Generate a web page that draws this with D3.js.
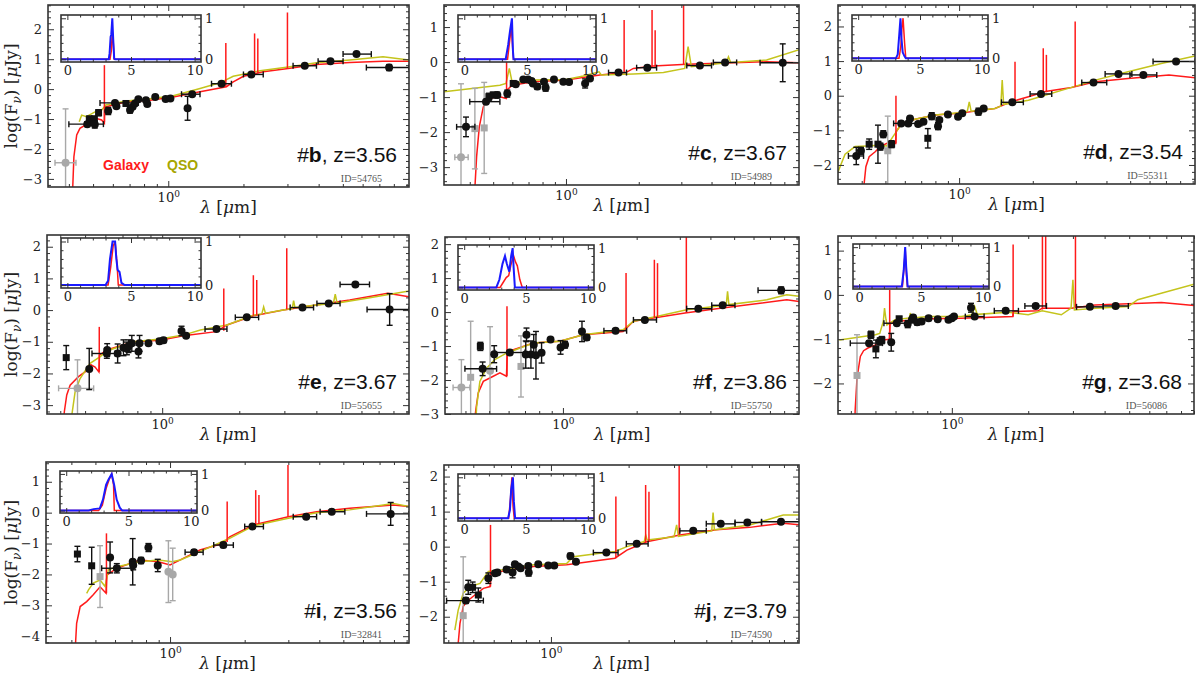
<!DOCTYPE html>
<html><head><meta charset="utf-8">
<script src="https://cdn.jsdelivr.net/npm/d3@7"></script>
<style>body{margin:0;background:#fff}svg{display:block}</style>
</head><body>
<svg id="c" width="1200" height="680"></svg>
<script>
// ---------------- DATA ----------------
const panelKeys = ['b','c','d','e','f','g','i','j'];
const redshifts = ['3.56','3.67','3.54','3.67','3.86','3.68','3.56','3.79'];
const objIds = ['54765','54989','55311','55655','55750','56086','32841','74590'];
const xRanges = [[0.33,9.2],[0.313,9.2],[0.32,9.2],[0.355,9.2],[0.33,9.2],[0.356,9.0],[0.316,9.2],[0.385,9.15]];
const yRanges = [[-3.27,2.81],[-3.51,1.63],[-2.55,2.62],[-3.28,2.37],[-3.0,2.21],[-2.69,1.33],[-4.22,1.64],[-2.75,2.33]];
const xMajorTicks = [1];
const xMinorTicks = [0.2,0.3,0.4,0.5,0.6,0.7,0.8,0.9,2,3,4,5,6,7,8,9];
const insetXTicks = [0,5,10];
const insetYTicks = [0,1];
const legendLabels = ['Galaxy','QSO'];

// photometry: [lambda, logF, yerr, xlo, xhi, kind]  kind: c circle, s square, gc/gs grey
const bPhot = [[0.388,-2.46,1.8,0.352,0.427,'gc'],[0.474,-1.17,0.08,0.40,0.55,'c'],[0.483,-1.0,0.1,null,null,'s'],[0.506,-1.0,0.1,null,null,'s'],[0.508,-1.18,0.12,null,null,'c'],[0.526,-0.79,0.1,null,null,'s'],[0.575,-0.73,0.12,null,null,'c'],[0.612,-0.46,0.05,0.533,0.759,'c'],[0.62,-0.57,0.06,null,null,'c'],[0.677,-0.48,0.05,null,null,'s'],[0.703,-0.7,0.1,null,null,'c'],[0.72,-0.59,0.06,null,null,'c'],[0.736,-0.48,0.05,null,null,'c'],[0.759,-0.34,0.05,null,null,'c'],[0.814,-0.37,0.05,null,null,'c'],[0.824,-0.5,0.06,null,null,'c'],[0.887,-0.26,0.04,null,null,'c'],[0.976,-0.33,0.04,null,null,'c'],[1.02,-0.31,0.04,null,null,'c'],[1.195,-0.64,0.4,null,null,'c'],[1.247,-0.17,0.04,1.13,1.34,'c'],[1.634,0.18,0.04,1.49,1.79,'c'],[2.15,0.49,0.04,2.0,2.4,'c'],[3.52,0.78,0.03,3.16,3.92,'c'],[4.46,0.93,0.03,3.98,5.01,'c'],[5.67,1.17,0.03,5.01,6.5,'c'],[7.66,0.72,0.1,6.21,9.2,'c']];
const cPhot = [[0.368,-2.72,2.1,0.347,0.394,'gc'],[0.386,-1.85,0.28,0.353,0.42,'c'],[0.42,-1.9,1.15,null,null,'gs'],[0.459,-1.88,1.3,null,null,'gs'],[0.467,-1.13,0.06,0.40,0.533,'c'],[0.48,-0.99,0.1,null,null,'s'],[0.5,-0.94,0.08,null,null,'s'],[0.52,-0.94,0.08,null,null,'c'],[0.572,-0.9,0.1,null,null,'c'],[0.605,-0.61,0.05,null,null,'s'],[0.62,-0.63,0.05,null,null,'c'],[0.666,-0.5,0.05,null,null,'c'],[0.697,-0.5,0.05,null,null,'c'],[0.72,-0.54,0.06,null,null,'c'],[0.73,-0.61,0.06,null,null,'c'],[0.761,-0.7,0.08,null,null,'c'],[0.811,-0.56,0.06,null,null,'c'],[0.824,-0.73,0.1,null,null,'c'],[0.892,-0.5,0.04,null,null,'c'],[0.975,-0.56,0.04,null,null,'c'],[1.03,-0.57,0.04,null,null,'c'],[1.2,-0.61,0.13,null,null,'c'],[1.257,-0.47,0.04,null,null,'c'],[1.65,-0.3,0.04,1.5,1.78,'c'],[2.17,-0.16,0.04,1.96,2.37,'c'],[3.58,-0.1,0.03,3.16,4.0,'c'],[4.55,-0.01,0.03,4.07,5.08,'c'],[7.88,-0.02,0.54,6.35,9.3,'c']];
const dPhot = [[0.38,-1.74,0.25,0.353,0.407,'c'],[0.397,-1.59,0.1,null,null,'c'],[0.429,-1.4,0.15,null,null,'s'],[0.466,-1.4,0.55,null,null,'s'],[0.477,-1.47,0.1,null,null,'c'],[0.49,-1.11,0.1,null,null,'c'],[0.511,-1.59,1.0,null,null,'gs'],[0.53,-1.4,0.1,null,null,'s'],[0.58,-0.8,0.06,0.54,0.705,'c'],[0.62,-0.8,0.06,null,null,'c'],[0.63,-0.66,0.06,null,null,'c'],[0.68,-0.82,0.06,null,null,'c'],[0.715,-0.75,0.06,null,null,'c'],[0.745,-1.23,0.28,null,null,'s'],[0.773,-0.59,0.1,null,null,'c'],[0.82,-0.88,0.1,null,null,'c'],[0.83,-0.7,0.06,null,null,'c'],[0.9,-0.54,0.04,null,null,'c'],[0.99,-0.61,0.05,null,null,'c'],[1.03,-0.51,0.04,null,null,'c'],[1.2,-0.46,0.1,null,null,'c'],[1.26,-0.37,0.04,null,null,'c'],[1.65,-0.19,0.04,1.49,1.83,'c'],[2.16,0.05,0.04,1.95,2.39,'c'],[3.54,0.38,0.03,3.17,4.01,'c'],[4.48,0.63,0.03,3.95,5.08,'c'],[5.66,0.6,0.04,4.99,6.42,'c'],[7.7,0.99,0.03,6.2,9.2,'c']];
const ePhot = [[0.422,-1.5,0.38,null,null,'s'],[0.467,-2.47,0.9,0.394,0.54,'gc'],[0.519,-1.86,0.65,null,null,'c'],[0.608,-1.37,0.15,0.532,0.655,'c'],[0.61,-1.26,0.2,null,null,'c'],[0.67,-1.37,0.3,null,null,'c'],[0.706,-1.19,0.25,null,null,'c'],[0.728,-1.21,0.2,null,null,'c'],[0.739,-1.14,0.2,null,null,'c'],[0.761,-1.05,0.25,null,null,'c'],[0.808,-1.31,0.2,null,null,'c'],[0.816,-1.05,0.25,null,null,'c'],[0.884,-1.05,0.05,null,null,'c'],[0.976,-0.98,0.08,null,null,'c'],[1.012,-0.95,0.08,null,null,'c'],[1.19,-0.66,0.15,null,null,'c'],[1.24,-0.81,0.05,null,null,'c'],[1.63,-0.6,0.05,1.47,1.79,'c'],[2.14,-0.23,0.04,1.93,2.38,'c'],[3.53,0.08,0.04,3.16,3.9,'c'],[4.47,0.21,0.04,4.02,4.95,'c'],[5.68,0.81,0.04,4.95,6.45,'c'],[7.73,0.02,0.5,6.31,9.2,'c']];
const fPhot = [[0.385,-2.22,0.82,0.356,0.417,'gc'],[0.42,-1.92,1.65,null,null,'gs'],[0.46,-1.01,0.12,null,null,'s'],[0.47,-1.67,0.2,0.398,0.536,'c'],[0.504,-1.73,1.3,null,null,'gc'],[0.524,-1.24,0.25,null,null,'c'],[0.607,-1.19,0.06,0.527,0.7,'c'],[0.674,-1.6,0.9,null,null,'gs'],[0.71,-0.67,0.2,null,null,'c'],[0.705,-1.25,0.4,null,null,'c'],[0.74,-1.25,0.4,null,null,'c'],[0.776,-1.27,0.7,null,null,'c'],[0.76,-0.96,0.3,null,null,'c'],[0.818,-1.2,0.3,null,null,'c'],[0.89,-0.81,0.05,null,null,'c'],[0.978,-1.04,0.2,null,null,'c'],[1.02,-0.96,0.1,null,null,'c'],[1.196,-0.57,0.3,null,null,'c'],[1.25,-0.75,0.08,null,null,'c'],[1.64,-0.55,0.05,1.47,1.82,'c'],[2.16,-0.23,0.04,1.94,2.41,'c'],[3.57,0.1,0.04,3.2,4.05,'c'],[4.49,0.2,0.04,4.05,5.04,'c'],[7.78,0.64,0.1,6.26,9.3,'c']];
const gPhot = [[0.423,-1.82,0.92,null,null,'gs'],[0.472,-1.09,0.05,0.398,0.533,'c'],[0.48,-0.9,0.08,null,null,'s'],[0.502,-1.22,0.2,null,null,'s'],[0.52,-1.05,0.08,null,null,'c'],[0.53,-1.02,0.08,null,null,'s'],[0.577,-1.07,0.2,null,null,'c'],[0.607,-0.64,0.05,0.54,0.686,'c'],[0.62,-0.54,0.05,null,null,'s'],[0.67,-0.66,0.08,null,null,'c'],[0.696,-0.56,0.05,null,null,'c'],[0.704,-0.51,0.05,null,null,'c'],[0.73,-0.62,0.06,null,null,'c'],[0.76,-0.6,0.05,null,null,'c'],[0.81,-0.53,0.05,null,null,'c'],[0.88,-0.55,0.04,null,null,'c'],[0.97,-0.56,0.04,null,null,'c'],[1.0,-0.53,0.04,null,null,'c'],[1.02,-0.49,0.04,null,null,'c'],[1.19,-0.29,0.1,null,null,'c'],[1.23,-0.49,0.04,1.13,1.34,'c'],[1.63,-0.36,0.04,1.47,1.83,'c'],[2.14,-0.25,0.04,1.94,2.36,'c'],[3.5,-0.27,0.03,3.1,3.95,'c'],[4.42,-0.25,0.03,3.95,4.96,'c']];
const iPhot = [[0.423,-1.34,0.25,null,null,'s'],[0.483,-1.72,0.6,null,null,'s'],[0.522,-2.07,1.0,null,null,'gs'],[0.573,-1.45,0.5,null,null,'c'],[0.61,-1.8,0.15,0.53,0.7,'c'],[0.707,-1.59,0.75,null,null,'c'],[0.71,-1.7,0.15,null,null,'c'],[0.764,-1.55,0.1,null,null,'c'],[0.818,-1.13,0.13,null,null,'c'],[0.892,-1.71,0.2,null,null,'c'],[0.985,-1.91,1.0,null,null,'gc'],[1.025,-2.0,0.85,null,null,'gc'],[1.25,-1.28,0.08,1.15,1.36,'c'],[1.64,-1.05,0.08,1.5,1.8,'c'],[2.15,-0.45,0.05,2.0,2.38,'c'],[3.54,-0.13,0.04,3.14,3.9,'c'],[4.49,0.03,0.04,4.03,5.07,'c'],[7.76,-0.04,0.37,6.2,9.2,'c']];
const jPhot = [[0.457,-1.97,1.68,null,null,'gs'],[0.468,-1.54,0.08,0.394,0.547,'c'],[0.478,-1.16,0.2,null,null,'c'],[0.497,-1.16,0.15,null,null,'s'],[0.523,-1.38,0.2,null,null,'s'],[0.572,-0.9,0.15,null,null,'c'],[0.607,-0.76,0.05,null,null,'c'],[0.62,-0.74,0.05,null,null,'c'],[0.673,-0.65,0.06,null,null,'c'],[0.71,-0.74,0.15,null,null,'c'],[0.725,-0.5,0.05,null,null,'c'],[0.747,-0.57,0.05,null,null,'c'],[0.763,-0.62,0.06,null,null,'c'],[0.817,-0.55,0.05,null,null,'c'],[0.82,-0.74,0.1,null,null,'c'],[0.893,-0.5,0.04,null,null,'c'],[0.976,-0.54,0.04,null,null,'c'],[1.03,-0.54,0.04,null,null,'c'],[1.19,-0.27,0.08,null,null,'c'],[1.25,-0.43,0.04,null,null,'c'],[1.64,-0.17,0.04,1.46,1.82,'c'],[2.15,0.08,0.04,1.96,2.38,'c'],[3.56,0.45,0.03,3.16,4.0,'c'],[4.55,0.65,0.03,4.0,5.17,'c'],[5.77,0.69,0.04,5.17,6.55,'c'],[7.79,0.71,0.04,6.55,9.2,'c']];

// galaxy model continuum [lambda, logF]
const bGal = [[0.414,-3.4],[0.419,-2.26],[0.43,-1.53],[0.443,-1.31],[0.472,-1.17],[0.517,-0.98],[0.541,-1.03],[0.555,-1.14],[0.5565,-0.6],[0.563,-0.59],[0.681,-0.42],[0.845,-0.37],[1.047,-0.26],[1.34,-0.09],[1.71,0.08],[1.82,0.24],[2.0,0.43],[2.4,0.58],[3.02,0.69],[3.92,0.82],[5.33,0.89],[7.24,0.93],[9.2,0.93]];
const cGal = [[0.42,-3.6],[0.427,-2.7],[0.438,-1.85],[0.455,-1.28],[0.473,-1.09],[0.5,-1.01],[0.533,-0.99],[0.566,-1.04],[0.569,-0.8],[0.6,-0.66],[0.73,-0.56],[1.0,-0.51],[1.38,-0.37],[1.77,-0.3],[1.9,-0.18],[2.3,-0.11],[3.16,-0.06],[4.92,-0.02],[6.76,0.01],[9.3,-0.02]];
const dGal = [[0.407,-2.7],[0.416,-2.05],[0.429,-1.76],[0.454,-1.62],[0.476,-1.47],[0.522,-1.33],[0.55,-1.38],[0.553,-1.04],[0.583,-0.8],[0.66,-0.68],[0.8,-0.56],[0.994,-0.51],[1.4,-0.37],[1.64,-0.17],[1.92,-0.03],[2.25,0.12],[2.88,0.24],[3.6,0.4],[4.9,0.5],[7.2,0.6],[9.2,0.52]];
const eGal = [[0.413,-3.4],[0.415,-3.2],[0.424,-2.68],[0.437,-2.37],[0.471,-2.1],[0.5,-1.95],[0.523,-1.71],[0.547,-1.8],[0.566,-1.95],[0.569,-1.42],[0.608,-1.26],[0.773,-1.0],[0.982,-0.95],[1.21,-0.81],[1.63,-0.68],[1.79,-0.47],[2.27,-0.18],[2.97,0.0],[4.0,0.16],[5.4,0.32],[7.6,0.53],[9.2,0.42]];
const fGal = [[0.436,-3.2],[0.441,-2.87],[0.451,-2.38],[0.473,-2.04],[0.503,-1.94],[0.553,-1.79],[0.588,-1.89],[0.593,-1.21],[0.607,-1.14],[0.757,-0.91],[0.972,-0.86],[1.21,-0.67],[1.76,-0.57],[1.94,-0.27],[2.41,-0.16],[3.15,-0.03],[4.24,0.1],[5.8,0.22],[8.2,0.36],[9.3,0.31]];
const gGal = [[0.414,-3.0],[0.416,-2.6],[0.423,-1.88],[0.436,-1.39],[0.449,-1.26],[0.467,-1.2],[0.5,-1.13],[0.538,-1.02],[0.567,-1.0],[0.571,-0.66],[0.598,-0.6],[0.81,-0.54],[1.09,-0.53],[1.74,-0.49],[1.745,-0.38],[2.19,-0.36],[2.27,-0.3],[2.96,-0.3],[3.67,-0.23],[4.96,-0.2],[6.7,-0.17],[9.0,-0.24]];
const iGal = [[0.414,-4.5],[0.42,-3.58],[0.434,-3.04],[0.461,-2.88],[0.49,-2.66],[0.522,-2.4],[0.552,-2.61],[0.556,-2.02],[0.61,-1.8],[0.757,-1.53],[0.897,-1.59],[1.0,-1.69],[1.1,-1.53],[1.32,-1.21],[1.64,-0.99],[1.74,-0.78],[2.17,-0.4],[3.0,-0.13],[3.9,0.03],[5.3,0.14],[7.95,0.25],[9.2,0.2]];
const jGal = [[0.435,-3.0],[0.437,-2.76],[0.444,-2.19],[0.457,-1.71],[0.471,-1.57],[0.507,-1.38],[0.547,-1.19],[0.581,-1.14],[0.585,-0.76],[0.634,-0.71],[0.854,-0.57],[1.15,-0.52],[1.77,-0.33],[1.97,-0.1],[2.35,0.14],[3.16,0.33],[4.38,0.48],[5.9,0.55],[7.95,0.67],[9.2,0.62]];

// QSO model [lambda, logF]
const bQso = [[0.44,-1.09],[0.45,-0.87],[0.47,-0.92],[0.509,-0.76],[0.541,-0.7],[0.563,-0.53],[0.68,-0.4],[0.845,-0.32],[1.047,-0.22],[1.34,0.02],[1.61,0.21],[1.82,0.43],[2.33,0.61],[3.02,0.74],[3.92,0.88],[5.33,0.97],[7.24,1.08],[9.2,0.97]];
const cQso = [[0.313,-0.85],[0.533,-0.66],[0.565,-0.61],[0.583,-0.18],[0.6,-0.61],[0.73,-0.51],[1.0,-0.5],[1.18,-0.4],[1.37,-0.28],[1.4,-0.37],[1.9,-0.34],[2.53,-0.3],[3.1,-0.18],[3.2,0.44],[3.3,-0.13],[4.6,-0.02],[4.7,0.15],[4.8,-0.01],[6.76,0.06],[9.3,0.36]];
const dQso = [[0.32,-2.2],[0.342,-1.69],[0.376,-1.47],[0.42,-1.45],[0.468,-1.43],[0.506,-1.45],[0.548,-1.09],[0.583,-0.8],[0.66,-0.68],[0.8,-0.56],[0.994,-0.49],[1.08,-0.45],[1.1,-0.18],[1.12,-0.45],[1.4,-0.37],[1.48,-0.3],[1.5,0.45],[1.52,-0.25],[1.64,-0.22],[1.92,-0.13],[2.88,0.24],[3.6,0.45],[4.9,0.69],[6.7,0.93],[9.2,1.15]];
const eQso = [[0.444,-3.3],[0.457,-2.58],[0.478,-2.16],[0.523,-1.68],[0.573,-1.47],[0.608,-1.29],[0.773,-1.0],[0.982,-0.91],[1.21,-0.79],[1.41,-0.63],[1.79,-0.47],[2.27,-0.16],[2.45,-0.12],[2.49,0.1],[2.53,-0.1],[2.97,0.0],[3.22,0.05],[3.26,0.3],[3.3,0.08],[4.0,0.16],[4.66,0.21],[4.74,0.5],[4.82,0.22],[6.3,0.37],[9.2,0.6]];
const fQso = [[0.442,-3.1],[0.444,-2.8],[0.458,-2.04],[0.488,-1.65],[0.527,-1.4],[0.588,-1.21],[0.757,-0.91],[0.972,-0.86],[1.21,-0.67],[1.76,-0.52],[1.94,-0.27],[2.41,-0.13],[3.2,0.07],[4.24,0.17],[4.64,0.2],[4.7,0.61],[4.76,0.22],[6.8,0.36],[8.2,0.51],[9.3,0.46]];
const gQso = [[0.36,-1.02],[0.5,-0.9],[0.52,-0.87],[0.537,-0.6],[0.543,-0.3],[0.55,-0.55],[0.555,-0.68],[0.598,-0.56],[0.68,-0.52],[0.686,-0.41],[0.695,-0.52],[0.81,-0.49],[1.09,-0.49],[1.2,-0.45],[1.23,-0.26],[1.26,-0.44],[1.67,-0.39],[2.0,-0.45],[2.27,-0.36],[2.7,-0.45],[2.95,-0.3],[3.0,0.34],[3.04,-0.34],[3.67,-0.3],[4.96,-0.26],[5.4,-0.11],[9.0,0.24]];
const iQso = [[0.461,-2.61],[0.469,-2.5],[0.49,-2.28],[0.522,-2.18],[0.547,-2.39],[0.564,-1.85],[0.61,-1.75],[0.757,-1.59],[0.897,-1.53],[1.02,-1.59],[1.1,-1.53],[1.32,-1.26],[1.74,-0.83],[2.17,-0.43],[3.0,-0.18],[3.9,0.0],[5.3,0.09],[7.95,0.3],[9.2,0.2]];
const jQso = [[0.424,-2.38],[0.437,-1.81],[0.457,-1.33],[0.486,-1.14],[0.531,-1.05],[0.572,-0.71],[0.634,-0.67],[0.854,-0.52],[1.15,-0.48],[1.22,-0.29],[1.55,-0.19],[1.77,-0.14],[1.97,0.0],[2.3,0.15],[2.33,0.33],[2.36,0.19],[3.0,0.28],[3.07,0.62],[3.12,0.29],[4.2,0.45],[4.25,0.97],[4.3,0.48],[5.9,0.62],[7.95,0.9],[9.2,0.9]];

// galaxy emission lines [lambda, base, peak]
const bLines = [[0.555,-1.1,0.8],[1.70,0.07,1.54],[2.216,0.5,1.86],[2.283,0.52,1.69],[3.0,0.69,2.56]];
const cLines = [[0.568,-1.04,0.01],[1.74,-0.31,1.2],[2.27,-0.14,1.49],[2.338,-0.13,0.91],[3.065,-0.07,1.7]];
const dLines = [[0.552,-1.38,0.0],[1.692,-0.18,0.98],[2.207,0.08,1.37],[2.273,0.1,1.18],[2.98,0.26,2.14]];
const eLines = [[0.568,-1.95,-0.53],[1.74,-0.65,0.68],[2.27,-0.18,1.1],[2.34,-0.16,0.95],[3.065,0.02,1.95]];
const fLines = [[0.591,-1.89,0.17],[1.81,-0.55,1.15],[2.362,-0.17,1.54],[2.433,-0.15,1.44],[3.19,-0.02,2.4]];
const gLines = [[0.569,-1.0,0.11],[1.744,-0.49,1.14],[2.275,-0.33,1.5],[2.343,-0.3,1.5],[3.07,-0.28,1.5]];
const iLines = [[0.554,-2.61,-0.67],[1.70,-0.95,0.36],[2.216,-0.38,0.73],[2.283,-0.34,0.57],[2.99,-0.14,1.54]];
const jLines = [[0.583,-1.14,0.62],[1.785,-0.33,1.43],[2.328,0.12,1.76],[2.398,0.15,1.57],[3.14,0.33,2.4]];

// redshift probability (inset) [z, P]
const bPzB = [[-0.5,0],[3.25,0],[3.32,0.15],[3.4,0.55],[3.45,0.6],[3.53,1.0],[3.6,0.5],[3.68,0.02],[3.75,0],[10.5,0]];
const bPzR = [[-0.5,0],[3.35,0],[3.45,0.2],[3.52,0.6],[3.6,0.45],[3.68,0],[10.5,0]];
const cPzB = [[-0.5,0],[3.3,0],[3.5,0.35],[3.65,0.7],[3.8,1.0],[3.88,0.2],[3.93,0],[10.5,0]];
const cPzR = [[-0.5,0],[3.45,0],[3.6,0.4],[3.75,0.8],[3.85,0.3],[3.92,0],[10.5,0]];
const dPzB = [[-0.5,0],[3.05,0],[3.2,0.1],[3.3,0.5],[3.42,1.0],[3.5,0.5],[3.6,0.15],[3.75,0.05],[3.85,0],[10.5,0]];
const dPzR = [[-0.5,0],[3.3,0],[3.45,0.3],[3.55,0.8],[3.63,1.0],[3.75,0.4],[3.85,0],[10.5,0]];
const ePzB = [[-0.5,0],[3.0,0],[3.2,0.1],[3.35,0.6],[3.55,1.0],[3.75,1.0],[3.85,0.6],[3.95,0.35],[4.1,0.3],[4.25,0.05],[4.5,0],[10.5,0]];
const ePzR = [[-0.5,0],[3.2,0],[3.4,0.4],[3.6,0.9],[3.75,1.0],[3.9,0.5],[4.0,0],[10.5,0]];
const fPzB = [[-0.5,0],[2.6,0],[2.85,0.2],[3.1,0.6],[3.3,0.8],[3.45,0.6],[3.65,0.4],[3.8,0.8],[3.92,1.0],[4.0,0.5],[4.1,0],[10.5,0]];
const fPzR = [[-0.5,0],[2.9,0],[3.2,0.15],[3.4,0.25],[3.6,0.3],[3.8,0.6],[4.0,0.8],[4.15,0.65],[4.3,0.55],[4.5,0.2],[4.7,0],[10.5,0]];
const gPzB = [[-0.5,0],[3.45,0],[3.6,0.4],[3.72,1.0],[3.8,0.5],[3.92,0],[10.5,0]];
const gPzR = [[-0.5,0],[3.5,0],[3.65,0.6],[3.73,0.9],[3.82,0.3],[3.9,0],[10.5,0]];
const iPzB = [[-0.5,0],[1.8,0],[2.2,0.04],[2.7,0.06],[2.95,0.3],[3.2,0.7],[3.4,0.85],[3.65,1.0],[3.85,0.7],[4.05,0.3],[4.3,0.08],[4.5,0],[10.5,0]];
const iPzR = [[-0.5,0],[2.6,0],[2.9,0.15],[3.2,0.6],[3.45,0.85],[3.65,1.0],[3.8,0.7],[3.86,0],[10.5,0]];
const jPzB = [[-0.5,0],[3.55,0],[3.7,0.2],[3.8,0.7],[3.94,1.0],[4.02,0.4],[4.12,0],[10.5,0]];
const jPzR = [[-0.5,0],[3.6,0],[3.75,0.5],[3.86,1.0],[3.95,0.3],[4.05,0],[10.5,0]];

// ---------------- LAYOUT ----------------
const frames = [[48,5,409,187],[444,5,799,185],[838,5,1195,184],[47,235,409,414],[445,237,799,414],[838,236,1194,414],[46,462,409,643],[444,465,799,643]];
const insets = [[61,15,140,47],[458,15,138,47],[852,15,136,46],[61,238,140,50],[458,245,136,45],[853,244,136,45],[60,471,137,42],[458,474,136,47]];
const showYLabel = [true,false,false,true,false,false,true,false];

const PHOT = [bPhot,cPhot,dPhot,ePhot,fPhot,gPhot,iPhot,jPhot];
const GAL = [bGal,cGal,dGal,eGal,fGal,gGal,iGal,jGal];
const QSO = [bQso,cQso,dQso,eQso,fQso,gQso,iQso,jQso];
const LINES = [bLines,cLines,dLines,eLines,fLines,gLines,iLines,jLines];
const PZB = [bPzB,cPzB,dPzB,ePzB,fPzB,gPzB,iPzB,jPzB];
const PZR = [bPzR,cPzR,dPzR,ePzR,fPzR,gPzR,iPzR,jPzR];

const RED = '#ff1a1a', YEL = '#c4c41c', BLUE = '#1a1aff', AX = '#333', GREY = '#a8a8a8';
const SERIF = "'DejaVu Serif', serif", SANS = "'Liberation Sans', Arial, sans-serif";

const svg = d3.select('#c');
const defs = svg.append('defs');

function styleAxis(g, fs) {
  g.select('.domain').remove();
  g.selectAll('.tick line').attr('stroke', AX).attr('stroke-width', 1);
  g.selectAll('.tick text').attr('font-family', SERIF).attr('font-size', fs).attr('fill', '#222');
}
function fmtMinus(d){ return d < 0 ? '\u2212' + Math.abs(d) : String(d); }

panelKeys.forEach((k, i) => {
  const [L, T, R, B] = frames[i];
  const x = d3.scaleLog().domain(xRanges[i]).range([L, R]);
  const y = d3.scaleLinear().domain(yRanges[i]).range([B, T]);
  const root = svg.append('g');
  const cid = 'clip' + k;
  defs.append('clipPath').attr('id', cid).append('rect').attr('x', L).attr('y', T).attr('width', R - L).attr('height', B - T);
  const plot = root.append('g').attr('clip-path', `url(#${cid})`);
  const line = d3.line().x(d => x(d[0])).y(d => y(d[1]));

  plot.append('path').attr('d', line(GAL[i])).attr('fill', 'none').attr('stroke', RED).attr('stroke-width', 1.5);
  plot.append('path').attr('d', line(QSO[i])).attr('fill', 'none').attr('stroke', YEL).attr('stroke-width', 1.5);
  plot.selectAll('line.spike').data(LINES[i]).join('line').attr('class', 'spike')
    .attr('x1', d => x(d[0])).attr('x2', d => x(d[0])).attr('y1', d => y(d[1])).attr('y2', d => y(d[2]))
    .attr('stroke', RED).attr('stroke-width', 1.5);

  // photometry
  const pts = PHOT[i].slice().sort((a, b) => (b[5][0] === 'g') - (a[5][0] === 'g'));
  const pg = plot.append('g');
  pts.forEach(p => {
    const [lam, v, e, lo, hi, kind] = p;
    const col = kind[0] === 'g' ? GREY : '#111';
    const cx = x(lam), cy = y(v);
    const eb = pg.append('g').attr('stroke', col).attr('stroke-width', 1.4);
    if (e) {
      eb.append('line').attr('x1', cx).attr('x2', cx).attr('y1', y(v - e)).attr('y2', y(v + e));
      eb.append('line').attr('x1', cx - 3).attr('x2', cx + 3).attr('y1', y(v - e)).attr('y2', y(v - e));
      eb.append('line').attr('x1', cx - 3).attr('x2', cx + 3).attr('y1', y(v + e)).attr('y2', y(v + e));
    }
    if (lo !== null) {
      eb.append('line').attr('x1', x(lo)).attr('x2', x(hi)).attr('y1', cy).attr('y2', cy);
      eb.append('line').attr('x1', x(lo)).attr('x2', x(lo)).attr('y1', cy - 3).attr('y2', cy + 3);
      eb.append('line').attr('x1', x(hi)).attr('x2', x(hi)).attr('y1', cy - 3).attr('y2', cy + 3);
    }
    if (kind.endsWith('s')) {
      pg.append('rect').attr('x', cx - 3.5).attr('y', cy - 3.5).attr('width', 7).attr('height', 7).attr('fill', col);
    } else {
      pg.append('circle').attr('cx', cx).attr('cy', cy).attr('r', 4).attr('fill', col);
    }
  });

  // axes
  const xMin = xMinorTicks.filter(v => v >= xRanges[i][0] && v <= xRanges[i][1]);
  const yMaj = d3.range(Math.ceil(yRanges[i][0]), Math.floor(yRanges[i][1]) + 1);
  const yMin = d3.range(Math.ceil(yRanges[i][0] / 0.2), Math.floor(yRanges[i][1] / 0.2) + 1)
    .map(v => +(v * 0.2).toFixed(2)).filter(v => Math.abs(v - Math.round(v)) > 1e-6);

  const ax = root.append('g');
  const bx = ax.append('g').attr('transform', `translate(0,${B})`)
    .call(d3.axisBottom(x).tickValues(xMajorTicks).tickSize(-6).tickPadding(6).tickFormat(() => '10'));
  styleAxis(bx, 13);
  bx.selectAll('.tick text').append('tspan').attr('dy', '-0.55em').attr('font-size', 9).text('0');
  styleAxis(ax.append('g').attr('transform', `translate(0,${B})`).call(d3.axisBottom(x).tickValues(xMin).tickSize(-3).tickFormat('')), 13);
  styleAxis(ax.append('g').attr('transform', `translate(0,${T})`).call(d3.axisTop(x).tickValues(xMajorTicks).tickSize(-6).tickFormat('')), 13);
  styleAxis(ax.append('g').attr('transform', `translate(0,${T})`).call(d3.axisTop(x).tickValues(xMin).tickSize(-3).tickFormat('')), 13);
  styleAxis(ax.append('g').attr('transform', `translate(${L},0)`).call(d3.axisLeft(y).tickValues(yMaj).tickSize(-6).tickPadding(6).tickFormat(fmtMinus)), 13);
  styleAxis(ax.append('g').attr('transform', `translate(${L},0)`).call(d3.axisLeft(y).tickValues(yMin).tickSize(-3).tickFormat('')), 13);
  styleAxis(ax.append('g').attr('transform', `translate(${R},0)`).call(d3.axisRight(y).tickValues(yMaj).tickSize(-6).tickFormat('')), 13);
  styleAxis(ax.append('g').attr('transform', `translate(${R},0)`).call(d3.axisRight(y).tickValues(yMin).tickSize(-3).tickFormat('')), 13);
  root.append('rect').attr('x', L).attr('y', T).attr('width', R - L).attr('height', B - T)
    .attr('fill', 'none').attr('stroke', AX).attr('stroke-width', 1.6);

  // x label
  const xl = root.append('text').attr('x', (L + R) / 2).attr('y', B + 26).attr('text-anchor', 'middle')
    .attr('font-family', SERIF).attr('font-size', 17).attr('fill', '#222');
  xl.append('tspan').attr('font-style', 'italic').text('\u03bb');
  xl.append('tspan').text(' [');
  xl.append('tspan').attr('font-style', 'italic').text('\u03bc');
  xl.append('tspan').text('m]');

  if (showYLabel[i]) {
    const cy = (T + B) / 2;
    const yl = root.append('text').attr('transform', `translate(17,${cy}) rotate(-90)`).attr('text-anchor', 'middle')
      .attr('font-family', SERIF).attr('font-size', 17).attr('fill', '#222');
    yl.append('tspan').text('log(F');
    yl.append('tspan').attr('font-style', 'italic').attr('font-size', 12).attr('dy', 4).text('\u03bd');
    yl.append('tspan').attr('dy', -4).text(') [');
    yl.append('tspan').attr('font-style', 'italic').text('\u03bc');
    yl.append('tspan').text('Jy]');
  }

  // label text
  const lab = root.append('text').attr('x', R - 12).attr('y', B - 25).attr('text-anchor', 'end')
    .attr('font-family', SANS).attr('font-size', 21).attr('fill', '#111');
  lab.append('tspan').text('#');
  lab.append('tspan').attr('font-weight', 'bold').text(k);
  lab.append('tspan').text(', z=' + redshifts[i]);
  root.append('text').attr('x', R - 27).attr('y', B - 5).attr('text-anchor', 'end')
    .attr('font-family', "'Liberation Serif', serif").attr('font-size', 10).attr('fill', '#555').text('ID=' + objIds[i]);

  if (i === 0) {
    root.append('text').attr('x', L + 55).attr('y', B - 17).attr('font-family', SANS).attr('font-weight', 'bold')
      .attr('font-size', 14).attr('fill', RED).text(legendLabels[0]);
    root.append('text').attr('x', L + 119).attr('y', B - 17).attr('font-family', SANS).attr('font-weight', 'bold')
      .attr('font-size', 14).attr('fill', '#a6a600').text(legendLabels[1]);
  }

  // inset
  const [iX, iY, iW, iH] = insets[i];
  const xi = d3.scaleLinear().domain([-0.5, 10.5]).range([iX, iX + iW]);
  const yi = d3.scaleLinear().domain([-0.066, 1.08]).range([iY + iH, iY]);
  const ig = root.append('g');
  ig.append('rect').attr('x', iX).attr('y', iY).attr('width', iW).attr('height', iH).attr('fill', '#fff');
  const il = d3.line().x(d => xi(d[0])).y(d => yi(d[1]));
  ig.append('path').attr('d', il(PZR[i])).attr('fill', 'none').attr('stroke', RED).attr('stroke-width', 1.5);
  ig.append('path').attr('d', il(PZB[i])).attr('fill', 'none').attr('stroke', BLUE).attr('stroke-width', 2);
  const ixMin = d3.range(0, 11).filter(v => v % 5 !== 0);
  const iyMin = [0.2, 0.4, 0.6, 0.8];
  const intFmt = d3.format('d');
  styleAxis(ig.append('g').attr('transform', `translate(0,${iY + iH})`).call(d3.axisBottom(xi).tickValues(insetXTicks).tickSize(-5).tickPadding(4).tickFormat(intFmt)), 13);
  styleAxis(ig.append('g').attr('transform', `translate(0,${iY + iH})`).call(d3.axisBottom(xi).tickValues(ixMin).tickSize(-2.5).tickFormat('')), 13);
  styleAxis(ig.append('g').attr('transform', `translate(0,${iY})`).call(d3.axisTop(xi).tickValues(insetXTicks).tickSize(-5).tickFormat('')), 13);
  styleAxis(ig.append('g').attr('transform', `translate(0,${iY})`).call(d3.axisTop(xi).tickValues(ixMin).tickSize(-2.5).tickFormat('')), 13);
  styleAxis(ig.append('g').attr('transform', `translate(${iX + iW},0)`).call(d3.axisRight(yi).tickValues(insetYTicks).tickSize(-5).tickPadding(4).tickFormat(intFmt)), 13);
  styleAxis(ig.append('g').attr('transform', `translate(${iX + iW},0)`).call(d3.axisRight(yi).tickValues(iyMin).tickSize(-2.5).tickFormat('')), 13);
  styleAxis(ig.append('g').attr('transform', `translate(${iX},0)`).call(d3.axisLeft(yi).tickValues(insetYTicks).tickSize(-5).tickFormat('')), 13);
  styleAxis(ig.append('g').attr('transform', `translate(${iX},0)`).call(d3.axisLeft(yi).tickValues(iyMin).tickSize(-2.5).tickFormat('')), 13);
  ig.append('rect').attr('x', iX).attr('y', iY).attr('width', iW).attr('height', iH)
    .attr('fill', 'none').attr('stroke', AX).attr('stroke-width', 1.6);
});
</script>
</body></html>
